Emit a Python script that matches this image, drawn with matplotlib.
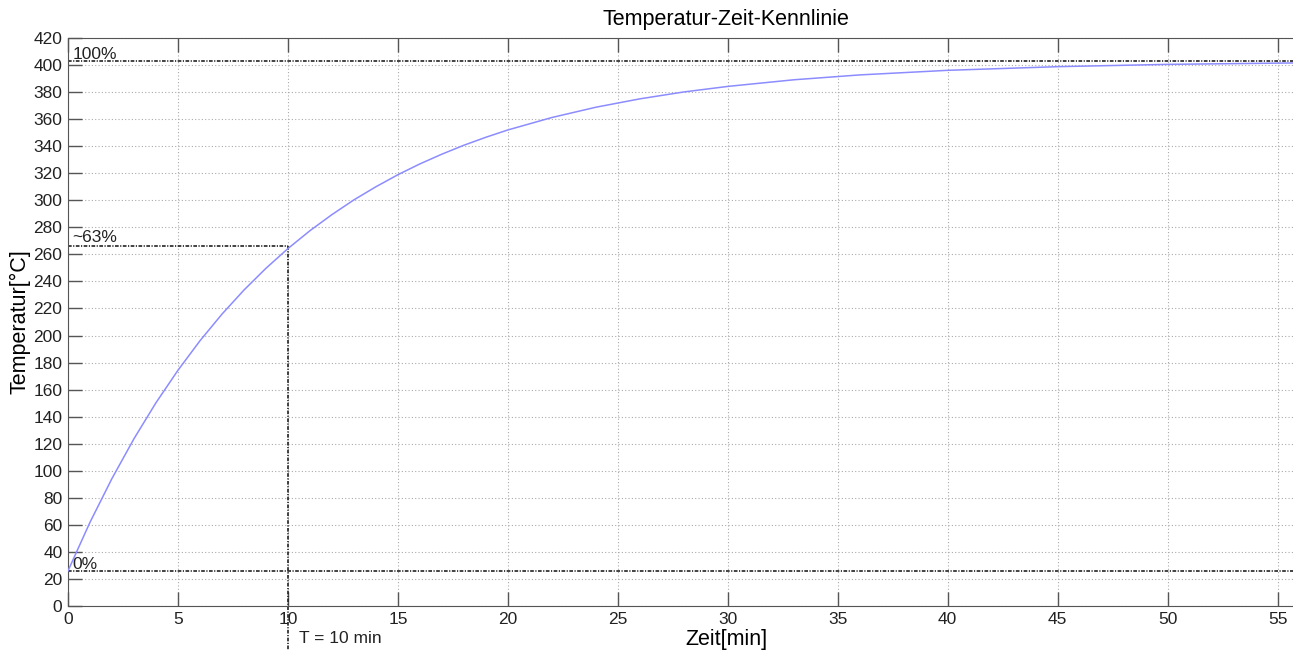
import matplotlib
matplotlib.use('Agg')
import matplotlib.pyplot as plt

zeit = [0, 1, 2, 3, 4, 5, 6, 7, 8, 9, 10, 11, 12, 13, 14, 15, 16, 17, 18, 19,
        20, 22, 24, 26, 28, 30, 33, 36, 40, 45, 50, 56]
temperatur = [26.0, 61.9, 94.3, 123.7, 150.3, 174.3, 196.1, 215.8, 233.6, 249.7,
              264.3, 277.5, 289.4, 300.3, 310.0, 318.9, 326.9, 334.1, 340.7, 346.6,
              352.0, 361.2, 368.8, 375.0, 380.1, 384.2, 389.1, 392.7, 396.1, 398.8,
              400.5, 401.6]

t_start = 26
t_ende = 403
t_63 = 266
tau = 10

plt.rcParams['font.family'] = ['Liberation Sans', 'DejaVu Sans']

fig = plt.figure(figsize=(12.93, 6.5), dpi=100)
ax = fig.add_axes([68 / 1293, 44 / 650, 1 - 68 / 1293, 568 / 650])

ax.plot(zeit, temperatur, color='#8c8cff', lw=1.1, zorder=3)

# Hilfslinien (strich-punkt)
lkw = dict(color='#222222', lw=1.2, linestyle=(0, (2.2, 0.9, 0.7, 0.9)), zorder=2)
ax.axhline(t_ende, **lkw)
ax.axhline(t_start, **lkw)
ax.plot([0, tau], [t_63, t_63], **lkw)
ax.plot([tau, tau], [t_63, -33], clip_on=False, **lkw)

tkw = dict(fontsize=12.5, color='#222222')
ax.text(0.2, t_ende + 1.5, '100%', **tkw)
ax.text(0.2, t_63 + 3, '~63%', **tkw)
ax.text(0.2, t_start + 1.5, '0%', **tkw)
ax.text(10.5, -27, 'T = 10 min', **tkw)

ax.set_xlim(0, 55.7)
ax.set_ylim(0, 420)
ax.set_xticks(range(0, 56, 5))
ax.set_yticks(range(0, 421, 20))
ax.tick_params(direction='in', length=10, top=True, right=False,
               labelsize=12.5, labelcolor='#222222', color='#555555',
               width=1, pad=4)
ax.grid(True, linestyle=(0, (1, 2)), color='#aaaaaa', lw=0.8)
ax.spines['right'].set_visible(False)
for s in ['left', 'top', 'bottom']:
    ax.spines[s].set_color('#555555')

xm = (726 - 68) / (1293 - 68)
ax.set_title('Temperatur-Zeit-Kennlinie', fontsize=15.5, x=xm, pad=9)
ax.set_xlabel('Zeit[min]', fontsize=15.5, x=xm, labelpad=2)
ax.set_ylabel('Temperatur[°C]', fontsize=15.5, labelpad=2)

fig.savefig('out.png', dpi=100)
